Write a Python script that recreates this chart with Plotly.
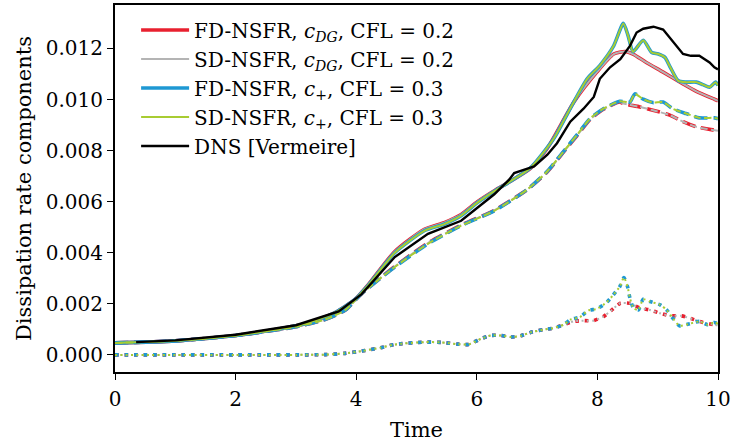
import plotly.graph_objects as go

# ---------------- data ----------------
# total (solid) dissipation, c_+ runs
t_tot_p = [0, 1, 2, 2.66, 3.21, 3.65, 3.98, 4.2, 4.64, 5.13, 5.46, 5.74, 6.01, 6.29, 6.56,
           6.89, 7.28, 7.52, 7.83, 8.04, 8.27, 8.43, 8.51, 8.59, 8.76, 8.9, 9.01, 9.12, 9.2,
           9.34, 9.47, 9.64, 9.75, 9.86, 9.96, 10]
v_tot_p = [0.00047, 0.00055, 0.00076, 0.00099, 0.00126, 0.00166, 0.00217, 0.00273, 0.00400,
           0.00486, 0.00512, 0.00545, 0.00596, 0.00641, 0.0068, 0.00732, 0.00848, 0.00952,
           0.01081, 0.01133, 0.0121, 0.01298, 0.01249, 0.01187, 0.01232, 0.01184, 0.01178,
           0.01165, 0.0113, 0.01073, 0.01068, 0.01068, 0.01058, 0.01048, 0.01068, 0.01055]
# total (solid) dissipation, c_DG runs
t_tot_dg = [0, 1, 2, 2.66, 3.21, 3.65, 3.98, 4.2, 4.64, 5.13, 5.46, 5.74, 6.01, 6.29, 6.56,
            6.89, 7.17, 7.61, 7.99, 8.27, 8.46, 8.59, 8.81, 9.09, 9.42, 9.64, 9.94, 10]
v_tot_dg = [0.00047, 0.00055, 0.00076, 0.00099, 0.00126, 0.00166, 0.00217, 0.00275, 0.00405,
            0.00492, 0.00518, 0.0055, 0.006, 0.00643, 0.0068, 0.0073, 0.00809, 0.0099, 0.01107,
            0.01178, 0.01188, 0.01178, 0.01145, 0.01107, 0.01061, 0.01032, 0.01001, 0.00995]
# dashed component
t_dash_p = [0, 1, 2, 3, 3.5, 3.82, 4.09, 4.64, 5.19, 5.74, 6.29, 6.84, 7.17, 7.44, 7.66, 7.88,
            8.1, 8.37, 8.54, 8.62, 8.76, 8.92, 9.09, 9.25, 9.47, 9.69, 9.94, 10]
v_dash_p = [0.00047, 0.00055, 0.00076, 0.0011, 0.0014, 0.00176, 0.0024, 0.00344, 0.00435,
            0.00506, 0.00564, 0.00648, 0.00719, 0.00797, 0.00861, 0.00926, 0.00964, 0.00993,
            0.0099, 0.01022, 0.01001, 0.00988, 0.0099, 0.00964, 0.00945, 0.00928, 0.00928,
            0.00925]
t_dash_dg = [0, 1, 2, 3, 3.5, 3.82, 4.09, 4.64, 5.19, 5.74, 6.29, 6.84, 7.17, 7.44, 7.66,
             7.88, 8.1, 8.37, 8.43, 8.7, 8.92, 9.2, 9.42, 9.64, 9.91, 10]
v_dash_dg = [0.00047, 0.00055, 0.00076, 0.0011, 0.0014, 0.00176, 0.0024, 0.00346, 0.00438,
             0.00508, 0.00566, 0.00648, 0.00717, 0.00795, 0.00858, 0.00922, 0.00962, 0.0099,
             0.00984, 0.00971, 0.00958, 0.00939, 0.00913, 0.00893, 0.00881, 0.00878]
# dotted component
t_dot_p = [0, 1, 2, 3, 3.49, 3.8, 4.09, 4.4, 4.64, 5.13, 5.41, 5.69, 5.86, 6.07, 6.23, 6.4,
           6.56, 6.73, 6.89, 7.11, 7.27, 7.44, 7.55, 7.71, 7.85, 7.99, 8.15, 8.26, 8.37, 8.44,
           8.5, 8.54, 8.6, 8.68, 8.76, 8.87, 9.04, 9.15, 9.25, 9.36, 9.53, 9.69, 9.83, 9.94, 10]
v_dot_p = [0.0, 0.0, 0.0, 0.0, 0.00001, 0.00006, 0.00015, 0.00028, 0.00041, 0.0005, 0.00049,
           0.00042, 0.00041, 0.00063, 0.00076, 0.00076, 0.0007, 0.00075, 0.00088, 0.00099,
           0.00105, 0.00118, 0.00138, 0.00148, 0.00174, 0.0018, 0.00205, 0.00234, 0.00267,
           0.00303, 0.00267, 0.00222, 0.00183, 0.00176, 0.00218, 0.00209, 0.00196, 0.00176,
           0.00144, 0.00114, 0.00122, 0.00131, 0.00118, 0.00127, 0.00122]
t_dot_dg = [0, 1, 2, 3, 3.49, 3.8, 4.09, 4.4, 4.64, 5.13, 5.41, 5.69, 5.86, 6.07, 6.23, 6.4,
            6.56, 6.73, 6.89, 7.11, 7.27, 7.44, 7.6, 7.77, 7.93, 8.1, 8.24, 8.38, 8.54, 8.71,
            8.87, 9.04, 9.2, 9.39, 9.58, 9.75, 9.94, 10]
v_dot_dg = [0.0, 0.0, 0.0, 0.0, 0.00001, 0.00006, 0.00015, 0.00028, 0.00041, 0.0005, 0.00049,
            0.00042, 0.00041, 0.00063, 0.00076, 0.00076, 0.0007, 0.00075, 0.00088, 0.00099,
            0.00105, 0.00118, 0.00131, 0.00134, 0.00134, 0.0015, 0.00176, 0.00202, 0.00202,
            0.00183, 0.00176, 0.00163, 0.00153, 0.00153, 0.0014, 0.00127, 0.00118, 0.00116]
# DNS reference
t_dns = [0.35, 1, 2, 3, 3.71, 4.09, 4.64, 5.19, 5.74, 6.01, 6.29, 6.54, 6.62, 6.84, 6.95, 7.17,
         7.33, 7.55, 7.77, 7.94, 8.04, 8.21, 8.38, 8.54, 8.65, 8.76, 8.93, 9.09, 9.25, 9.42,
         9.55, 9.69, 9.86, 9.94, 10]
v_dns = [0.0005, 0.00057, 0.00079, 0.00116, 0.0017, 0.00238, 0.00383, 0.00474, 0.00525,
         0.00577, 0.00629, 0.00687, 0.00712, 0.00729, 0.00738, 0.00784, 0.00829, 0.00913,
         0.00964, 0.0101, 0.01081, 0.01126, 0.01158, 0.0121, 0.01262, 0.01277, 0.01285,
         0.01274, 0.01229, 0.01178, 0.01171, 0.01171, 0.01145, 0.01126, 0.01118]

legend_names = ["FD-NSFR, <i>c</i><sub><i>DG</i></sub>, CFL = 0.2",
                "SD-NSFR, <i>c</i><sub><i>DG</i></sub>, CFL = 0.2",
                "FD-NSFR, <i>c</i><sub>+</sub>, CFL = 0.3",
                "SD-NSFR, <i>c</i><sub>+</sub>, CFL = 0.3",
                "DNS [Vermeire]"]
x_ticks = [0, 2, 4, 6, 8, 10]
y_ticks = [0.0, 0.002, 0.004, 0.006, 0.008, 0.010, 0.012]

# ---------------- styles ----------------
runs = [
    dict(name=legend_names[0], color="#e8202f", w=3.6, data="dg"),
    dict(name=legend_names[1], color="#b4b4b4", w=2.0, data="dg"),
    dict(name=legend_names[2], color="#1e98d3", w=3.6, data="p"),
    dict(name=legend_names[3], color="#a8cc32", w=2.0, data="p"),
]
series = {
    "dg": [(t_tot_dg, v_tot_dg), (t_dash_dg, v_dash_dg), (t_dot_dg, v_dot_dg)],
    "p": [(t_tot_p, v_tot_p), (t_dash_p, v_dash_p), (t_dot_p, v_dot_p)],
}

fig = go.Figure()
for r in runs:
    w = r["w"]
    dashes = ["solid", f"{3.7*w:.1f}px,{1.6*w:.1f}px", f"{1.0*w:.1f}px,{1.65*w:.1f}px"]
    for k, (tt, vv) in enumerate(series[r["data"]]):
        fig.add_trace(go.Scatter(
            x=tt, y=vv, mode="lines", name=r["name"], showlegend=(k == 0),
            line=dict(color=r["color"], width=w, dash=dashes[k], shape="spline", smoothing=0.6),
        ))
fig.add_trace(go.Scatter(x=t_dns, y=v_dns, mode="lines", name=legend_names[4],
                         line=dict(color="black", width=2.4)))

font = "DejaVu Serif"
fig.update_layout(
    width=732, height=444,
    margin=dict(l=115, r=14, t=5, b=72, autoexpand=False),
    paper_bgcolor="white", plot_bgcolor="white",
    font=dict(family=font, size=20, color="black"),
    showlegend=True,
    legend=dict(x=0.035, y=0.985, xanchor="left", yanchor="top",
                bgcolor="rgba(255,255,255,0)", borderwidth=0,
                font=dict(size=20), itemwidth=48, tracegroupgap=0),
)
fig.update_xaxes(range=[0, 10], tickvals=x_ticks, ticktext=[str(v) for v in x_ticks],
                 automargin=False,
                 showgrid=False, zeroline=False, showline=True, linecolor="black",
                 linewidth=2, mirror=True, ticks="outside", ticklen=6, tickwidth=1.2,
                 tickcolor="black", tickfont=dict(size=20), ticklabeloverflow="allow",
                 ticklabelstandoff=2,
                 title=dict(text="Time", font=dict(size=21), standoff=12))
fig.update_yaxes(range=[-0.00067, 0.0137], tickvals=y_ticks,
                 ticktext=[f"{v:.3f}" for v in y_ticks], automargin=False,
                 showgrid=False, zeroline=False, showline=True, linecolor="black",
                 linewidth=2, mirror=True, ticks="outside", ticklen=6, tickwidth=1.2,
                 tickcolor="black", tickfont=dict(size=20),
                 title=dict(text="Dissipation rate components", font=dict(size=21), standoff=8))

fig.write_html("out.html")
